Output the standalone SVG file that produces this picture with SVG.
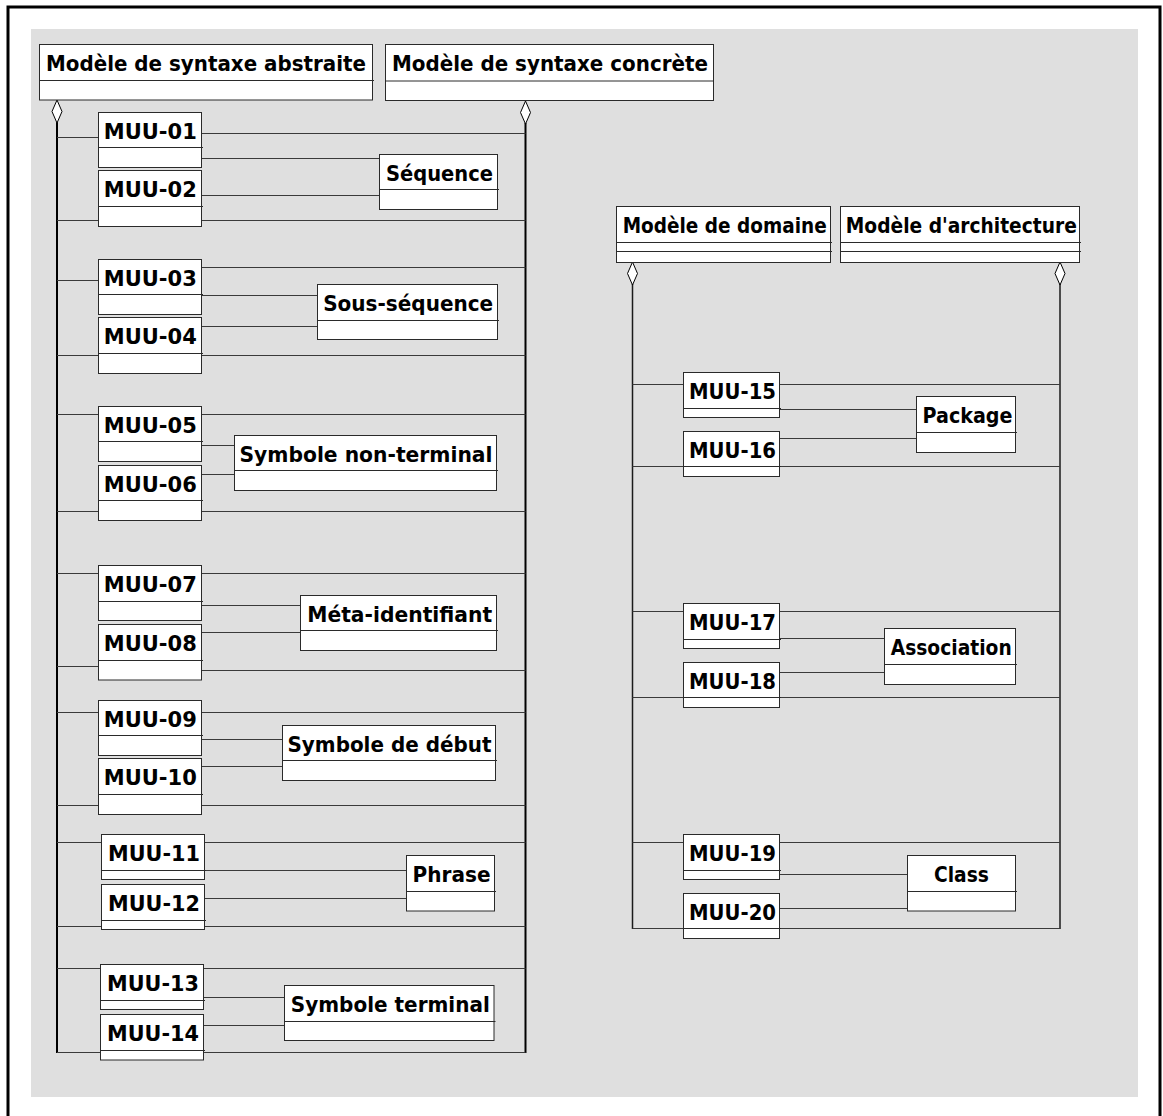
<svg xmlns="http://www.w3.org/2000/svg" width="1163" height="1116" viewBox="0 0 1163 1116">
  <style>
    .box { fill: #ffffff; stroke: #2a2a2a; stroke-width: 1; }
    .div { stroke: #2a2a2a; stroke-width: 1; }
    .lbl { font-family: "DejaVu Sans", Verdana, sans-serif; font-weight: bold; font-size: 22px; fill: #000000; text-anchor: middle; }
    .wire { stroke: #3a3a3a; stroke-width: 1; fill: none; }
    .spine { stroke: #000000; stroke-width: 2; fill: none; }
    .spine2 { stroke: #1a1a1a; stroke-width: 1.5; fill: none; }
    .agg { fill: #ffffff; stroke: #000000; stroke-width: 1; }
  </style>
  <defs>
    <!-- hollow aggregation diamond, top tip at origin -->
    <path id="diamond" d="M0,0 L5,11.5 L0,23 L-5,11.5 Z"/>
  </defs>

  <!-- frame and canvas -->
  <rect x="8" y="7" width="1152" height="1125" fill="#ffffff" stroke="#000000" stroke-width="3"/>
  <rect x="31" y="29" width="1107" height="1068" fill="#dfdfdf"/>

  <g id="connectors">
    <!-- left panel spines -->
    <line class="spine" x1="57" y1="122" x2="57" y2="1053"/>
    <line class="spine" x1="525.5" y1="123" x2="525.5" y2="1053"/>
    <use href="#diamond" x="57" y="100" class="agg"/>
    <use href="#diamond" x="525.5" y="101" class="agg"/>

    <!-- MUU-01 / MUU-02 / Séquence -->
    <line class="wire" x1="57" y1="137.5" x2="98.5" y2="137.5"/>
    <line class="wire" x1="201.5" y1="133.5" x2="525.5" y2="133.5"/>
    <line class="wire" x1="201.5" y1="158.5" x2="379.5" y2="158.5"/>
    <line class="wire" x1="201.5" y1="195.5" x2="379.5" y2="195.5"/>
    <line class="wire" x1="57" y1="220.5" x2="525.5" y2="220.5"/>

    <!-- MUU-03 / MUU-04 / Sous-séquence -->
    <line class="wire" x1="57" y1="280.5" x2="98.5" y2="280.5"/>
    <line class="wire" x1="201.5" y1="267.5" x2="525.5" y2="267.5"/>
    <line class="wire" x1="201.5" y1="295.5" x2="317.5" y2="295.5"/>
    <line class="wire" x1="201.5" y1="326.5" x2="317.5" y2="326.5"/>
    <line class="wire" x1="57" y1="355.5" x2="525.5" y2="355.5"/>

    <!-- MUU-05 / MUU-06 / Symbole non-terminal -->
    <line class="wire" x1="57" y1="414.5" x2="525.5" y2="414.5"/>
    <line class="wire" x1="201.5" y1="445.5" x2="234.5" y2="445.5"/>
    <line class="wire" x1="201.5" y1="474.5" x2="234.5" y2="474.5"/>
    <line class="wire" x1="57" y1="511.5" x2="525.5" y2="511.5"/>

    <!-- MUU-07 / MUU-08 / Méta-identifiant -->
    <line class="wire" x1="57" y1="573.5" x2="525.5" y2="573.5"/>
    <line class="wire" x1="201.5" y1="605.5" x2="300.5" y2="605.5"/>
    <line class="wire" x1="201.5" y1="632.5" x2="300.5" y2="632.5"/>
    <line class="wire" x1="57" y1="666.5" x2="98.5" y2="666.5"/>
    <line class="wire" x1="201.5" y1="670.5" x2="525.5" y2="670.5"/>

    <!-- MUU-09 / MUU-10 / Symbole de début -->
    <line class="wire" x1="57" y1="712.5" x2="525.5" y2="712.5"/>
    <line class="wire" x1="201.5" y1="739.5" x2="282.5" y2="739.5"/>
    <line class="wire" x1="201.5" y1="766.5" x2="282.5" y2="766.5"/>
    <line class="wire" x1="57" y1="805.5" x2="525.5" y2="805.5"/>

    <!-- MUU-11 / MUU-12 / Phrase -->
    <line class="wire" x1="57" y1="842.5" x2="525.5" y2="842.5"/>
    <line class="wire" x1="204.5" y1="870.5" x2="406.5" y2="870.5"/>
    <line class="wire" x1="204.5" y1="898.5" x2="406.5" y2="898.5"/>
    <line class="wire" x1="57" y1="926.5" x2="525.5" y2="926.5"/>

    <!-- MUU-13 / MUU-14 / Symbole terminal -->
    <line class="wire" x1="57" y1="968.5" x2="525.5" y2="968.5"/>
    <line class="wire" x1="203.5" y1="997.5" x2="284.5" y2="997.5"/>
    <line class="wire" x1="203.5" y1="1025.5" x2="284.5" y2="1025.5"/>
    <line class="wire" x1="57" y1="1052.5" x2="525.5" y2="1052.5"/>

    <!-- right panel spines -->
    <line class="spine2" x1="632.5" y1="284" x2="632.5" y2="929"/>
    <line class="spine2" x1="1060" y1="284" x2="1060" y2="929"/>
    <use href="#diamond" x="632.5" y="262" class="agg"/>
    <use href="#diamond" x="1060" y="262" class="agg"/>

    <!-- MUU-15 / MUU-16 / Package -->
    <line class="wire" x1="632.5" y1="384.5" x2="1060" y2="384.5"/>
    <line class="wire" x1="779.5" y1="409.5" x2="916.5" y2="409.5"/>
    <line class="wire" x1="779.5" y1="438.5" x2="916.5" y2="438.5"/>
    <line class="wire" x1="632.5" y1="466.5" x2="1060" y2="466.5"/>

    <!-- MUU-17 / MUU-18 / Association -->
    <line class="wire" x1="632.5" y1="611.5" x2="1060" y2="611.5"/>
    <line class="wire" x1="779.5" y1="638.5" x2="884.5" y2="638.5"/>
    <line class="wire" x1="779.5" y1="672.5" x2="884.5" y2="672.5"/>
    <line class="wire" x1="632.5" y1="697.5" x2="1060" y2="697.5"/>

    <!-- MUU-19 / MUU-20 / Class -->
    <line class="wire" x1="632.5" y1="842.5" x2="1060" y2="842.5"/>
    <line class="wire" x1="779.5" y1="874.5" x2="907.5" y2="874.5"/>
    <line class="wire" x1="779.5" y1="908.5" x2="907.5" y2="908.5"/>
    <line class="wire" x1="632.5" y1="928.5" x2="1060" y2="928.5"/>
  </g>

  <!-- class boxes -->
  <g id="modele-syntaxe-abstraite">
    <rect class="box" x="39.5" y="44.5" width="333" height="55.5"/>
    <line class="div" x1="39.5" y1="80.5" x2="374" y2="80.5"/>
    <text class="lbl" x="206" y="71" textLength="320" lengthAdjust="spacingAndGlyphs">Modèle de syntaxe abstraite</text>
  </g>
  <g id="modele-syntaxe-concrete">
    <rect class="box" x="385.5" y="44.5" width="328" height="56"/>
    <line class="div" x1="385.5" y1="81" x2="713.5" y2="81"/>
    <text class="lbl" x="550" y="71" textLength="316" lengthAdjust="spacingAndGlyphs">Modèle de syntaxe concrète</text>
  </g>

  <g id="muu-01">
    <rect class="box" x="98.5" y="112.5" width="103" height="55"/>
    <line class="div" x1="98.5" y1="147.5" x2="203" y2="147.5"/>
    <text class="lbl" x="150.3" y="138.5" textLength="93" lengthAdjust="spacingAndGlyphs">MUU-01</text>
  </g>
  <g id="muu-02">
    <rect class="box" x="98.5" y="170.5" width="103" height="56"/>
    <line class="div" x1="98.5" y1="206.5" x2="203" y2="206.5"/>
    <text class="lbl" x="150.3" y="196.5" textLength="93" lengthAdjust="spacingAndGlyphs">MUU-02</text>
  </g>
  <g id="sequence">
    <rect class="box" x="379.5" y="154.5" width="118" height="55"/>
    <line class="div" x1="379.5" y1="189.5" x2="499" y2="189.5"/>
    <text class="lbl" x="439.5" y="180.5" textLength="107" lengthAdjust="spacingAndGlyphs">Séquence</text>
  </g>

  <g id="muu-03">
    <rect class="box" x="98.5" y="259.5" width="103" height="55"/>
    <line class="div" x1="98.5" y1="294.5" x2="203" y2="294.5"/>
    <text class="lbl" x="150.3" y="285.5" textLength="93" lengthAdjust="spacingAndGlyphs">MUU-03</text>
  </g>
  <g id="muu-04">
    <rect class="box" x="98.5" y="317.5" width="103" height="56"/>
    <line class="div" x1="98.5" y1="353.5" x2="203" y2="353.5"/>
    <text class="lbl" x="150.3" y="343.5" textLength="93" lengthAdjust="spacingAndGlyphs">MUU-04</text>
  </g>
  <g id="sous-sequence">
    <rect class="box" x="317.5" y="284.5" width="180" height="55"/>
    <line class="div" x1="317.5" y1="320.5" x2="499" y2="320.5"/>
    <text class="lbl" x="408.2" y="310.5" textLength="170" lengthAdjust="spacingAndGlyphs">Sous-séquence</text>
  </g>

  <g id="muu-05">
    <rect class="box" x="98.5" y="406.5" width="103" height="55"/>
    <line class="div" x1="98.5" y1="441.5" x2="203" y2="441.5"/>
    <text class="lbl" x="150.3" y="432.5" textLength="93" lengthAdjust="spacingAndGlyphs">MUU-05</text>
  </g>
  <g id="muu-06">
    <rect class="box" x="98.5" y="465.5" width="103" height="55"/>
    <line class="div" x1="98.5" y1="500.5" x2="203" y2="500.5"/>
    <text class="lbl" x="150.3" y="491.5" textLength="93" lengthAdjust="spacingAndGlyphs">MUU-06</text>
  </g>
  <g id="symbole-non-terminal">
    <rect class="box" x="234.5" y="435.5" width="262" height="55"/>
    <line class="div" x1="234.5" y1="470.5" x2="498" y2="470.5"/>
    <text class="lbl" x="366" y="461.5" textLength="253" lengthAdjust="spacingAndGlyphs">Symbole non-terminal</text>
  </g>

  <g id="muu-07">
    <rect class="box" x="98.5" y="565.5" width="103" height="55"/>
    <line class="div" x1="98.5" y1="601.5" x2="203" y2="601.5"/>
    <text class="lbl" x="150.3" y="591.5" textLength="93" lengthAdjust="spacingAndGlyphs">MUU-07</text>
  </g>
  <g id="muu-08">
    <rect class="box" x="98.5" y="624.5" width="103" height="55.5"/>
    <line class="div" x1="98.5" y1="660.5" x2="203" y2="660.5"/>
    <text class="lbl" x="150.3" y="650.5" textLength="93" lengthAdjust="spacingAndGlyphs">MUU-08</text>
  </g>
  <g id="meta-identifiant">
    <rect class="box" x="300.5" y="595.5" width="196" height="55"/>
    <line class="div" x1="300.5" y1="630.5" x2="498" y2="630.5"/>
    <text class="lbl" x="399.7" y="621.5" textLength="185" lengthAdjust="spacingAndGlyphs">Méta-identifiant</text>
  </g>

  <g id="muu-09">
    <rect class="box" x="98.5" y="700.5" width="103" height="55"/>
    <line class="div" x1="98.5" y1="735.5" x2="203" y2="735.5"/>
    <text class="lbl" x="150.3" y="726.5" textLength="93" lengthAdjust="spacingAndGlyphs">MUU-09</text>
  </g>
  <g id="muu-10">
    <rect class="box" x="98.5" y="758.5" width="103" height="56"/>
    <line class="div" x1="98.5" y1="794.5" x2="203" y2="794.5"/>
    <text class="lbl" x="150.3" y="784.5" textLength="93" lengthAdjust="spacingAndGlyphs">MUU-10</text>
  </g>
  <g id="symbole-de-debut">
    <rect class="box" x="282.5" y="725.5" width="213" height="55"/>
    <line class="div" x1="282.5" y1="760.5" x2="497" y2="760.5"/>
    <text class="lbl" x="389.5" y="751.5" textLength="204" lengthAdjust="spacingAndGlyphs">Symbole de début</text>
  </g>

  <g id="muu-11">
    <rect class="box" x="101.5" y="834.5" width="103" height="45"/>
    <line class="div" x1="101.5" y1="870.5" x2="206" y2="870.5"/>
    <text class="lbl" x="154" y="860.5" textLength="92" lengthAdjust="spacingAndGlyphs">MUU-11</text>
  </g>
  <g id="muu-12">
    <rect class="box" x="101.5" y="884.5" width="103" height="45"/>
    <line class="div" x1="101.5" y1="920.5" x2="206" y2="920.5"/>
    <text class="lbl" x="154" y="910.5" textLength="92" lengthAdjust="spacingAndGlyphs">MUU-12</text>
  </g>
  <g id="phrase">
    <rect class="box" x="406.5" y="855.5" width="88" height="55.5"/>
    <line class="div" x1="406.5" y1="891.5" x2="496" y2="891.5"/>
    <text class="lbl" x="451.5" y="881.5" textLength="78" lengthAdjust="spacingAndGlyphs">Phrase</text>
  </g>

  <g id="muu-13">
    <rect class="box" x="100.5" y="964.5" width="103" height="45"/>
    <line class="div" x1="100.5" y1="1000.5" x2="205" y2="1000.5"/>
    <text class="lbl" x="153" y="990.5" textLength="92" lengthAdjust="spacingAndGlyphs">MUU-13</text>
  </g>
  <g id="muu-14">
    <rect class="box" x="100.5" y="1014.5" width="103" height="45.5"/>
    <line class="div" x1="100.5" y1="1050.5" x2="205" y2="1050.5"/>
    <text class="lbl" x="153" y="1040.5" textLength="92" lengthAdjust="spacingAndGlyphs">MUU-14</text>
  </g>
  <g id="symbole-terminal">
    <rect class="box" x="284.5" y="985.5" width="209.5" height="55"/>
    <line class="div" x1="284.5" y1="1021.5" x2="495.5" y2="1021.5"/>
    <text class="lbl" x="390.3" y="1011.5" textLength="199" lengthAdjust="spacingAndGlyphs">Symbole terminal</text>
  </g>

  <g id="modele-de-domaine">
    <rect class="box" x="616.5" y="206.5" width="214" height="56"/>
    <line class="div" x1="616.5" y1="242.5" x2="832" y2="242.5"/>
    <line class="div" x1="616.5" y1="251.5" x2="832" y2="251.5"/>
    <text class="lbl" x="724.7" y="232.5" textLength="204" lengthAdjust="spacingAndGlyphs">Modèle de domaine</text>
  </g>
  <g id="modele-architecture">
    <rect class="box" x="840.5" y="206.5" width="239" height="56"/>
    <line class="div" x1="840.5" y1="242.5" x2="1081" y2="242.5"/>
    <line class="div" x1="840.5" y1="251.5" x2="1081" y2="251.5"/>
    <text class="lbl" x="961.3" y="232.5" textLength="231" lengthAdjust="spacingAndGlyphs">Modèle d'architecture</text>
  </g>

  <g id="muu-15">
    <rect class="box" x="683.5" y="372.5" width="96" height="45"/>
    <line class="div" x1="683.5" y1="408.5" x2="781" y2="408.5"/>
    <text class="lbl" x="732.5" y="398.5" textLength="87" lengthAdjust="spacingAndGlyphs">MUU-15</text>
  </g>
  <g id="muu-16">
    <rect class="box" x="683.5" y="431.5" width="96" height="45"/>
    <line class="div" x1="683.5" y1="466.5" x2="781" y2="466.5"/>
    <text class="lbl" x="732.5" y="457.5" textLength="87" lengthAdjust="spacingAndGlyphs">MUU-16</text>
  </g>
  <g id="package">
    <rect class="box" x="916.5" y="396.5" width="99" height="56"/>
    <line class="div" x1="916.5" y1="432.5" x2="1017" y2="432.5"/>
    <text class="lbl" x="967.5" y="422.5" textLength="90" lengthAdjust="spacingAndGlyphs">Package</text>
  </g>

  <g id="muu-17">
    <rect class="box" x="683.5" y="603.5" width="96" height="45"/>
    <line class="div" x1="683.5" y1="639.5" x2="781" y2="639.5"/>
    <text class="lbl" x="732.5" y="629.5" textLength="87" lengthAdjust="spacingAndGlyphs">MUU-17</text>
  </g>
  <g id="muu-18">
    <rect class="box" x="683.5" y="662.5" width="96" height="45"/>
    <line class="div" x1="683.5" y1="697.5" x2="781" y2="697.5"/>
    <text class="lbl" x="732.5" y="688.5" textLength="87" lengthAdjust="spacingAndGlyphs">MUU-18</text>
  </g>
  <g id="association">
    <rect class="box" x="884.5" y="628.5" width="131" height="56"/>
    <line class="div" x1="884.5" y1="664.5" x2="1017" y2="664.5"/>
    <text class="lbl" x="951.2" y="654.5" textLength="121" lengthAdjust="spacingAndGlyphs">Association</text>
  </g>

  <g id="muu-19">
    <rect class="box" x="683.5" y="834.5" width="96" height="45"/>
    <line class="div" x1="683.5" y1="870.5" x2="781" y2="870.5"/>
    <text class="lbl" x="732.5" y="860.5" textLength="87" lengthAdjust="spacingAndGlyphs">MUU-19</text>
  </g>
  <g id="muu-20">
    <rect class="box" x="683.5" y="893.5" width="96" height="45"/>
    <line class="div" x1="683.5" y1="928.5" x2="781" y2="928.5"/>
    <text class="lbl" x="732.5" y="919.5" textLength="87" lengthAdjust="spacingAndGlyphs">MUU-20</text>
  </g>
  <g id="class">
    <rect class="box" x="907.5" y="855.5" width="108" height="55.5"/>
    <line class="div" x1="907.5" y1="891.5" x2="1017" y2="891.5"/>
    <text class="lbl" x="961.5" y="881.5" textLength="55" lengthAdjust="spacingAndGlyphs">Class</text>
  </g>
</svg>
